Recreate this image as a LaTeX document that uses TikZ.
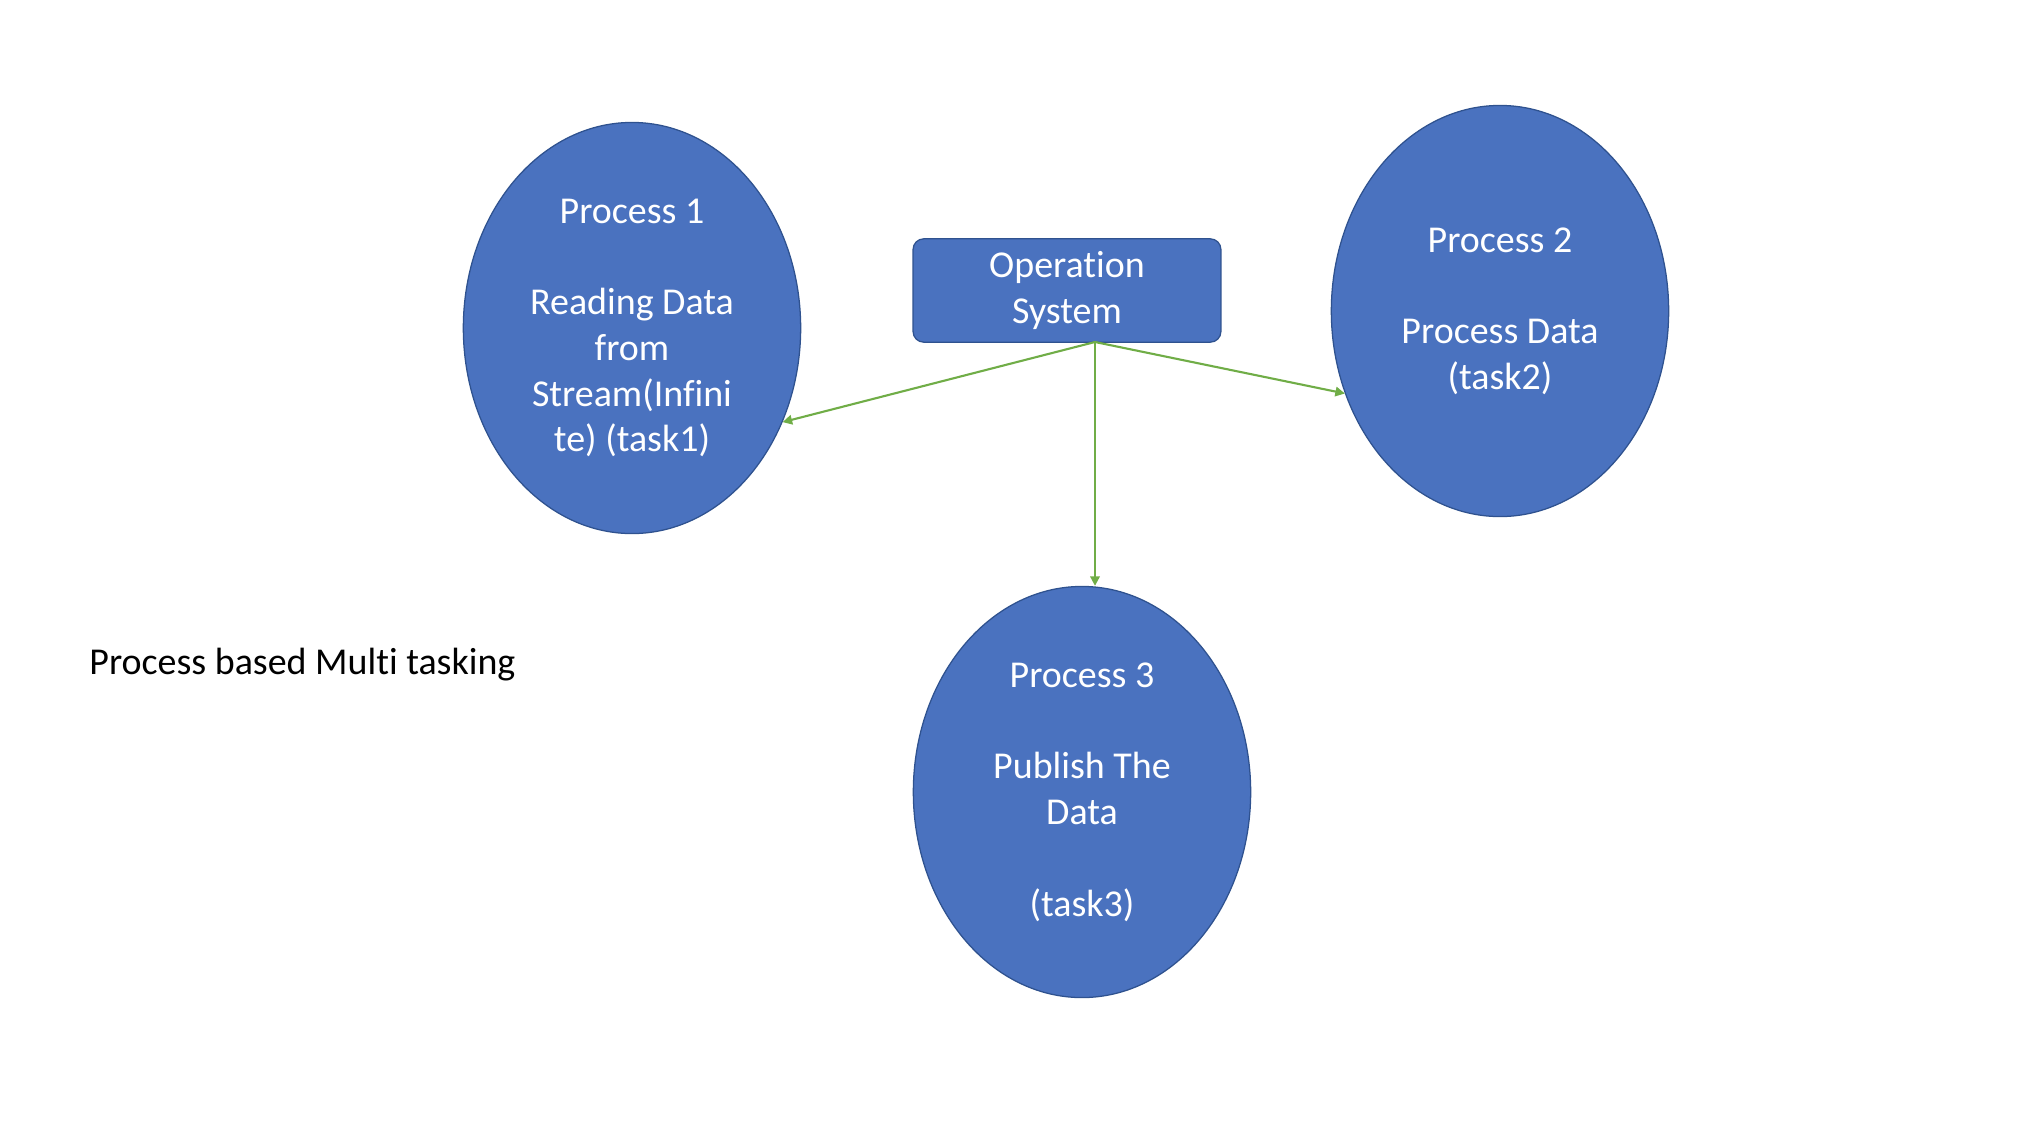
\documentclass[tikz,border=0pt]{standalone}
\usepackage{fontspec}
\setmainfont[Ligatures=NoCommon]{Carlito}
\usetikzlibrary{shapes,arrows.meta,positioning}
\usepackage{xcolor}
\definecolor{procblue}{HTML}{4A72BF}
\definecolor{procedge}{HTML}{2F528F}
\definecolor{osgreen}{HTML}{70AD47}

\tikzset{
  procnode/.style={ellipse, draw=procedge, fill=procblue, line width=0.6pt, text=white,
    minimum width=160pt, minimum height=195pt, inner sep=0pt, align=center,
    font=\fontsize{18}{21.7}\selectfont},
  osnode/.style={rectangle, rounded corners=5pt, draw=procedge, fill=procblue, line width=0.6pt,
    text=white, minimum width=146pt, minimum height=49pt, inner sep=0pt, align=center,
    font=\fontsize{18}{21.7}\selectfont},
  osarrow/.style={draw=osgreen, line width=1pt, -{Triangle[length=4.5pt, width=4.5pt]}}
}

\begin{document}
\begin{tikzpicture}[x=0.4743pt, y=-0.4743pt]
      \useasboundingbox (0,0) rectangle (2024,1132);

      \node[procnode] (p1) at (632,328) {Process 1\\[21.7pt]Reading Data\\from\\Stream(Infini\\te) (task1)};
      \node[procnode] (p2) at (1500,311) {Process 2\\[21.7pt]Process Data\\(task2)};
      \node[procnode] (p3) at (1082,792) {Process 3\\[21.7pt]Publish The\\Data\\[21.7pt](task3)};

      \node[osnode] (os) at (1067,290.5) {Operation\\System};
      \coordinate (osb) at (1095,342);

      \node[anchor=west, inner sep=0pt, font=\fontsize{18}{21.7}\selectfont] (title) at (89,665) {Process based Multi tasking};

      \draw[osarrow] (osb) -- (p1.-32);
      \draw[osarrow] (osb) -- (p2.208);
      \draw[osarrow] (osb) -- (osb |- p3.north);
    \end{tikzpicture}
\end{document}
